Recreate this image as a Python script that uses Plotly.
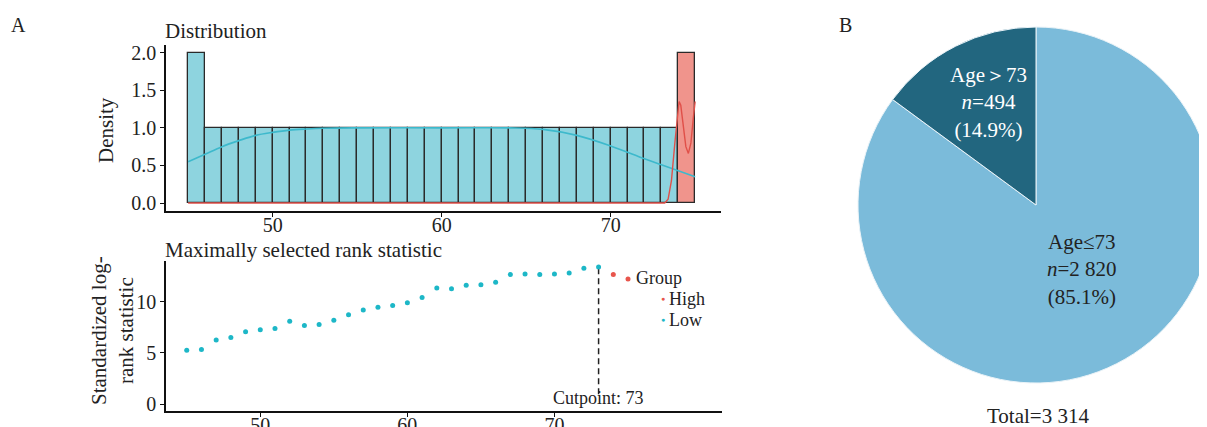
import plotly.graph_objects as go

FONT = "Liberation Serif"

# ---------------- Panel A (top): distribution of age ----------------
hist_left_low = [45, 46, 47, 48, 49, 50, 51, 52, 53, 54, 55, 56, 57, 58, 59,
                 60, 61, 62, 63, 64, 65, 66, 67, 68, 69, 70, 71, 72, 73]
hist_dens_low = [2.0, 1.0, 1.0, 1.0, 1.0, 1.0, 1.0, 1.0, 1.0, 1.0, 1.0, 1.0, 1.0, 1.0, 1.0,
                 1.0, 1.0, 1.0, 1.0, 1.0, 1.0, 1.0, 1.0, 1.0, 1.0, 1.0, 1.0, 1.0, 1.0]
hist_left_high = [74]
hist_dens_high = [2.0]
bin_width = 1

kde_low_x = [45, 46, 47, 48, 49, 50, 51, 52, 53, 55, 60, 64, 66, 68, 70, 72, 73, 74, 75]
kde_low_y = [0.55, 0.65, 0.75, 0.83, 0.90, 0.94, 0.97, 0.985, 0.995, 1.0, 1.0, 1.0, 0.98,
             0.90, 0.76, 0.59, 0.51, 0.43, 0.35]
kde_high_x = [45, 73.2, 73.4, 73.6, 73.8, 73.95, 74.05, 74.15, 74.3, 74.45, 74.6, 74.75, 74.9, 75]
kde_high_y = [0.0, 0.0, 0.05, 0.3, 0.8, 1.2, 1.35, 1.3, 1.0, 0.75, 0.66, 0.8, 1.15, 1.35]

# ---------------- Panel A (bottom): maximally selected rank statistic ----------------
ages = [45, 46, 47, 48, 49, 50, 51, 52, 53, 54, 55, 56, 57, 58, 59, 60,
        61, 62, 63, 64, 65, 66, 67, 68, 69, 70, 71, 72, 73, 74, 75]
stats = [5.26, 5.33, 6.27, 6.50, 7.06, 7.25, 7.39, 8.10, 7.68, 7.78, 8.20, 8.72, 9.20,
         9.47, 9.64, 9.90, 10.42, 11.34, 11.27, 11.60, 11.67, 11.90, 12.65, 12.70,
         12.65, 12.70, 12.80, 13.27, 13.40, 12.65, 12.22]
groups = ["Low"] * 29 + ["High"] * 2
group_names = ["High", "Low"]
cutpoint = 73

# ---------------- Panel B: pie ----------------
pie_labels = ["Age≤73", "Age＞73"]
pie_values = [2820, 494]
pie_n_text = ["2 820", "494"]
pie_colors = ["#7BBBDA", "#22667F"]
total_text = "3 314"

C_LOW = "#8ED4DF"
C_HIGH = "#F0948C"
C_LOW_LINE = "#3DB9CC"
C_HIGH_LINE = "#E05049"
PT_COLORS = {"High": "#E8554C", "Low": "#1DB7C7"}

# page geometry (the page body has an 8px margin)
W, H, OFF = 1207, 427, 8


def X(px):
    return (px - OFF) / W


def Y(py):
    return 1 - (py - OFF) / H


fig = go.Figure()

fig.add_trace(go.Bar(
    x=[v + bin_width / 2 for v in hist_left_low], y=hist_dens_low, width=bin_width,
    marker=dict(color=C_LOW, line=dict(color="#2a2a2a", width=1.3)),
    showlegend=False, xaxis="x", yaxis="y", hoverinfo="skip"))
fig.add_trace(go.Bar(
    x=[v + bin_width / 2 for v in hist_left_high], y=hist_dens_high, width=bin_width,
    marker=dict(color=C_HIGH, line=dict(color="#2a2a2a", width=1.3)),
    showlegend=False, xaxis="x", yaxis="y", hoverinfo="skip"))
fig.add_trace(go.Scatter(
    x=kde_low_x, y=kde_low_y, mode="lines", line=dict(color=C_LOW_LINE, width=1.6, shape="spline"),
    showlegend=False, xaxis="x", yaxis="y", hoverinfo="skip"))
fig.add_trace(go.Scatter(
    x=kde_high_x, y=kde_high_y, mode="lines", line=dict(color=C_HIGH_LINE, width=1.4),
    showlegend=False, xaxis="x", yaxis="y", hoverinfo="skip"))

fig.add_trace(go.Scatter(
    x=[cutpoint, cutpoint], y=[0.95, max(stats)], mode="lines",
    line=dict(color="#222222", width=1.5, dash="6px,4px"),
    showlegend=False, xaxis="x2", yaxis="y2", hoverinfo="skip"))

for grp in group_names:
    xs = [a for a, g in zip(ages, groups) if g == grp]
    ys = [s for s, g in zip(stats, groups) if g == grp]
    fig.add_trace(go.Scatter(
        x=xs, y=ys, mode="markers", name=grp, showlegend=False,
        marker=dict(color=PT_COLORS[grp], size=5), xaxis="x2", yaxis="y2"))

# pie (center ~ (1036, 205), radius 178 in page pixels)
fig.add_trace(go.Pie(
    labels=pie_labels, values=pie_values, sort=False, direction="clockwise",
    rotation=0, textinfo="none", showlegend=False,
    marker=dict(colors=pie_colors, line=dict(color="#EAF3F8", width=1)),
    domain=dict(x=[X(858), X(1214)], y=[Y(383), Y(27)])))

axis_common = dict(showline=True, linecolor="#111111", linewidth=1.6, ticks="outside",
                   ticklen=4, tickwidth=1.2, tickcolor="#111111", showgrid=False,
                   zeroline=False, automargin=False,
                   tickfont=dict(family=FONT, size=20, color="#222222"))

fig.update_layout(
    width=W, height=H,
    margin=dict(l=0, r=0, t=0, b=0, autoexpand=False),
    paper_bgcolor="white", plot_bgcolor="white",
    barmode="overlay", bargap=0, showlegend=False,
    font=dict(family=FONT, color="#222222"),
    xaxis=dict(domain=[X(166), X(721)], range=[43.69, 76.53], tickvals=[50, 60, 70],
               anchor="y", ticklabelstandoff=-9, **axis_common),
    yaxis=dict(domain=[Y(211), Y(45)], range=[-0.106, 2.102], tickvals=[0, 0.5, 1, 1.5, 2],
               tickformat=".1f", anchor="x", **axis_common),
    xaxis2=dict(domain=[X(166), X(722)], range=[43.59, 81.39], tickvals=[50, 60, 70],
                anchor="y2", ticklabelstandoff=-9, **axis_common),
    yaxis2=dict(domain=[Y(411), Y(261)], range=[-0.68, 13.98], tickvals=[0, 5, 10],
                anchor="x2", **axis_common),
)

ann = []


def A(text, x, y, size=21, color="#222222", xanchor="center", angle=0):
    ann.append(dict(text=text, x=X(x), y=Y(y), xref="paper", yref="paper",
                    showarrow=False, xanchor=xanchor, yanchor="middle", textangle=angle,
                    font=dict(family=FONT, size=size, color=color)))


A("A", 18, 25, size=20)
A("B", 845, 25, size=20)
A("Distribution", 163, 31, xanchor="left")
A("Maximally selected rank statistic", 163, 250, xanchor="left")
A("Density", 106, 130, angle=-90)
A("Standardized log-<br>rank statistic", 112, 331, angle=-90)

# legend (Group)
A("Group", 634, 278, size=18, xanchor="left")
for i, grp in enumerate(group_names):
    yy = 299 + 21 * i
    A("●", 663, yy, size=7, color=PT_COLORS[grp])
    A(grp, 667, yy, size=18, xanchor="left")

# pie labels
total = sum(pie_values)
share = [v / total * 100 for v in pie_values]
A(f"{pie_labels[1]}<br><i>n</i>={pie_n_text[1]}<br>({share[1]:.1f}%)", 988, 102, color="white")
A(f"{pie_labels[0]}<br><i>n</i>={pie_n_text[0]}<br>({share[0]:.1f}%)", 1082, 269)
A(f"Total={total_text}", 1038, 416)

fig.update_layout(annotations=ann)

fig.add_annotation(text=f"Cutpoint: {cutpoint}", x=cutpoint, y=0.58, xref="x2", yref="y2",
                   xanchor="center", showarrow=False,
                   font=dict(family=FONT, size=18, color="#222222"))

fig.write_html("out.html")
